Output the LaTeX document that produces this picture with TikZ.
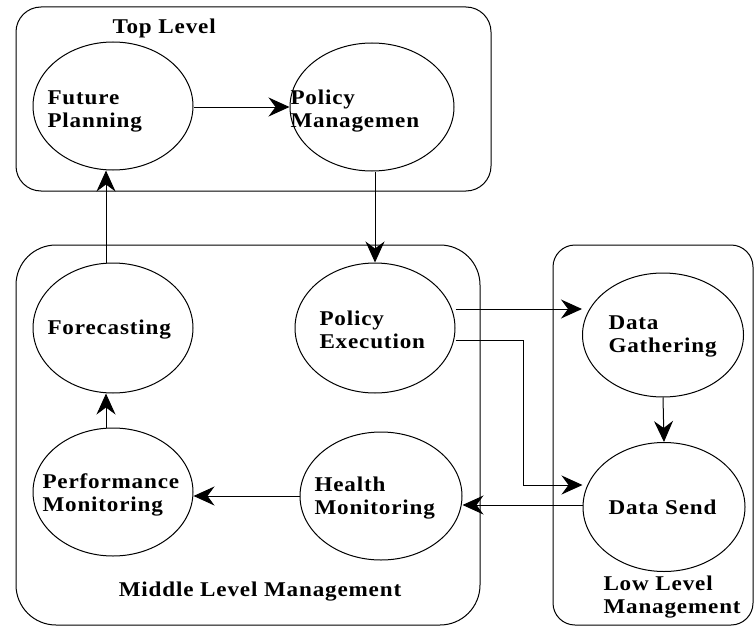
\documentclass[tikz,border=0pt]{standalone}
\usepackage{fontspec}
\setmainfont{Liberation Serif}[FakeStretch=1.1,LetterSpace=4]
\usetikzlibrary{arrows.meta,shapes.geometric}
\begin{document}
\begin{tikzpicture}[x=1pt,y=-1pt,
  every path/.style={line width=1pt},
  grp/.style={draw,line width=1pt},
  proc/.style={draw,ellipse,line width=1pt,inner sep=0pt},
  lbl/.style={anchor=west,align=left,inner sep=0pt,font=\fontsize{21}{23}\selectfont\bfseries},
  arr/.style={-{Stealth[length=21pt,width=19pt,inset=7pt]},line width=1pt}]
\useasboundingbox (0,0) rectangle (755,626);
% groups
\draw[grp,rounded corners=25pt] (16,7) rectangle (491,191);
\draw[grp,rounded corners=40pt] (16,245) rectangle (480,625);
\draw[grp,rounded corners=22pt] (553,245) rectangle (753,625);
% processes
\node[proc,minimum width=160pt,minimum height=128pt] (FP) at (113,106) {};
\node[proc,minimum width=164pt,minimum height=128pt] (PM) at (372,107) {};
\node[proc,minimum width=160pt,minimum height=130pt] (FC) at (113,328) {};
\node[proc,minimum width=160pt,minimum height=130pt] (PE) at (375,328) {};
\node[proc,minimum width=160pt,minimum height=128pt] (PF) at (113,492) {};
\node[proc,minimum width=162pt,minimum height=128pt] (HM) at (381,496) {};
\node[proc,minimum width=161pt,minimum height=124pt] (DG) at (663,335) {};
\node[proc,minimum width=162pt,minimum height=129pt] (DS) at (664,507) {};
% labels
\node[lbl] (tTop) at (112,28) {Top Level};
\node[lbl] (tFP) at (47,111) {Future\\Planning};
\node[lbl] (tPM) at (290,111) {Policy\\Managemen};
\node[lbl] (tFC) at (47,330) {Forecasting};
\node[lbl] (tPE) at (319,330) {Policy\\Execution};
\node[lbl] (tPF) at (42,495) {Performance\\Monitoring};
\node[lbl] (tHM) at (314,498) {Health\\Monitoring};
\node[lbl] (tDG) at (608,336) {Data\\Gathering};
\node[lbl] (tDS) at (608,507) {Data Send};
\node[lbl,anchor=center] (tML) at (260,592) {Middle Level Management};
\node[lbl] (tLL) at (603,597) {Low Level\\Management};
% connectors
\draw[arr] (FP.east |- 0,107) -- (PM.west |- 0,107);
\draw[arr] (PM.south -| 375,0) -- (PE.north -| 375,0);
\draw[arr] ([xshift=-7pt]FC.north) -- ([xshift=-7pt]FP.south);
\draw[arr] ([xshift=-7pt]PF.north) -- ([xshift=-7pt]FC.south);
\draw[arr] (HM.west) -- (HM.west -| PF.east);
\draw[arr] (PE.east |- 0,309) -- (DG.west |- 0,309);
\draw[arr] (PE.east |- 0,340) -- (523,340) -- (523,485) -- (DS.west |- 0,485);
\draw[arr] (DS.west |- 0,505) -- (HM.east |- 0,505);
\draw[arr] (DG.south) -- (DS.north);
\end{tikzpicture}
\end{document}
